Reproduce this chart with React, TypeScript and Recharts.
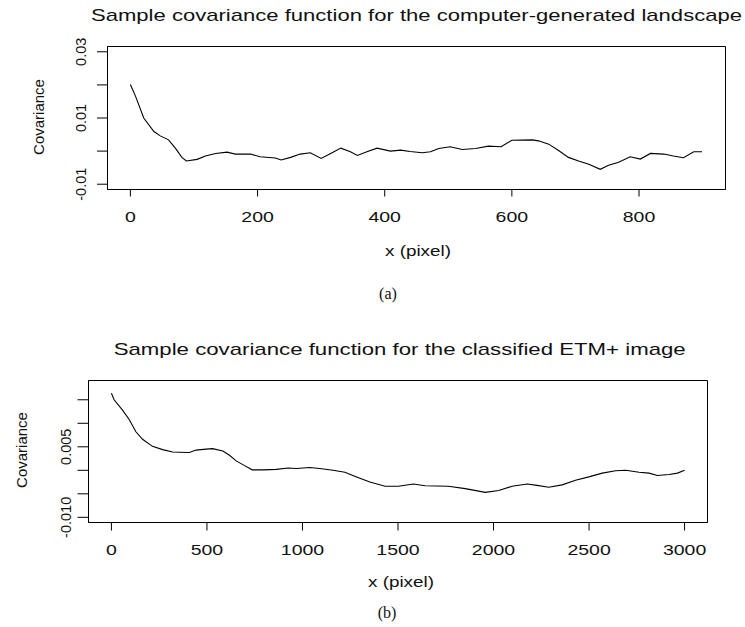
import React from 'react';
import { LineChart, Line, XAxis, YAxis, ReferenceArea } from 'recharts';

const FONT = '"Liberation Sans", Arial, Helvetica, sans-serif';
const SERIF = '"Liberation Serif", "Times New Roman", serif';
// the original R figure is stretched sideways, so horizontal text is widened
const STRETCH = 1.3;

// (a) computer-generated landscape
const landLag = [
  0, 8, 21, 37, 47, 60, 71, 81, 88, 105, 118, 134, 152, 165, 189, 204, 228, 237, 252, 267,
  283, 300, 315, 331, 346, 357, 372, 388, 409, 425, 440, 459, 472, 485, 503, 522, 543, 563,
  583, 600, 632, 642, 658, 674, 689, 705, 721, 739, 752, 768, 786, 802, 818, 839, 854, 870,
  886, 899,
];
const landCov = [
  0.0201, 0.0166, 0.01, 0.0059, 0.0046, 0.0034, 0.0008, -0.0019, -0.003, -0.0025, -0.0015,
  -0.0007, -0.0003, -0.0009, -0.0009, -0.0017, -0.0021, -0.0027, -0.0019, -0.0009, -0.0005,
  -0.0022, -0.0007, 0.0009, -0.0002, -0.0013, -0.0002, 0.0009, 0.0, 0.0003, -0.0001, -0.0005,
  -0.0002, 0.0008, 0.0013, 0.0005, 0.0008, 0.0015, 0.0013, 0.0033, 0.0034, 0.0031, 0.0021,
  0.0001, -0.0019, -0.003, -0.004, -0.0055, -0.0043, -0.0034, -0.0017, -0.0024, -0.0007,
  -0.0009, -0.0015, -0.002, -0.0002, -0.0002,
];
const landXTicks = [0, 200, 400, 600, 800];
const landYTicks = [-0.01, 0, 0.01, 0.02, 0.03];
const landYLabels = ['-0.01', '', '0.01', '', '0.03'];

// (b) classified ETM+ image
const etmLag = [
  0, 14, 58, 93, 128, 163, 215, 268, 320, 355, 408, 443, 496, 530, 583, 618, 653, 697, 737,
  793, 863, 924, 968, 1038, 1090, 1160, 1222, 1283, 1353, 1432, 1502, 1580, 1642, 1764, 1852,
  1957, 2027, 2097, 2176, 2228, 2289, 2359, 2429, 2499, 2569, 2639, 2692, 2762, 2814, 2858,
  2919, 2963, 3000,
];
const etmCov = [
  0.0164, 0.015, 0.0128, 0.0108, 0.0082, 0.0066, 0.0051, 0.0044, 0.0039, 0.00385, 0.0038,
  0.0043, 0.0045, 0.0046, 0.0041, 0.0032, 0.002, 0.001, 0.0001, 0.0001, 0.0002, 0.0005,
  0.0004, 0.0006, 0.0004, 0.0, -0.0004, -0.0014, -0.0025, -0.0034, -0.0034, -0.0029, -0.0033,
  -0.0034, -0.0039, -0.0047, -0.0043, -0.0034, -0.0029, -0.0032, -0.0036, -0.0031, -0.0021,
  -0.0014, -0.0006, -0.0001, 0.0, -0.0004, -0.0006, -0.0011, -0.0009, -0.0006, 0.0,
];
const etmXTicks = [0, 500, 1000, 1500, 2000, 2500, 3000];
const etmYTicks = [-0.01, -0.005, 0, 0.005, 0.01, 0.015];
const etmYLabels = ['-0.010', '', '', '0.005', '', ''];

const landData = landLag.map((x, i) => ({ x, cov: landCov[i] }));
const etmData = etmLag.map((x, i) => ({ x, cov: etmCov[i] }));

const Tick = (props: any) => {
  const { x, y, payload, index, labels, offset, vertical } = props;
  const text = labels ? labels[index] : String(payload.value);
  if (!text) return null;
  const transform = vertical
    ? `translate(${x + offset},${y}) rotate(-90)`
    : `translate(${x},${y + offset}) scale(${STRETCH},1)`;
  return (
    <text transform={transform} textAnchor="middle" fontFamily={FONT} fontSize={vertical ? 14.5 : 15} fill="#111">
      {text}
    </text>
  );
};

function Panel(props: any) {
  const { top, data, margin, xDomain, yDomain, xTicks, yTicks, yLabels, yAxisWidth, xTickLen, yTickLen, xLabelOffset, yLabelOffset } = props;
  return (
    <div style={{ position: 'absolute', left: 0, top }}>
      <LineChart width={745} height={270} data={data} margin={margin}>
        <XAxis
          dataKey="x"
          type="number"
          domain={xDomain}
          allowDataOverflow
          ticks={xTicks}
          interval={0}
          height={50}
          tickSize={xTickLen}
          tickMargin={0}
          stroke="#000"
          tick={(p: any) => <Tick {...p} offset={xLabelOffset} />}
        />
        <YAxis
          type="number"
          domain={yDomain}
          allowDataOverflow
          ticks={yTicks}
          interval={0}
          width={yAxisWidth}
          tickSize={yTickLen}
          tickMargin={0}
          stroke="#000"
          tick={(p: any) => <Tick {...p} labels={yLabels} offset={yLabelOffset} vertical />}
        />
        {/* box round the whole plot region */}
        <ReferenceArea
          x1={xDomain[0]}
          x2={xDomain[1]}
          y1={yDomain[0]}
          y2={yDomain[1]}
          fill="none"
          fillOpacity={0}
          stroke="#000"
          strokeWidth={1}
          ifOverflow="visible"
        />
        <Line type="linear" dataKey="cov" stroke="#000" strokeWidth={1.1} dot={false} isAnimationActive={false} />
      </LineChart>
    </div>
  );
}

const HText = ({ x, y, children, size = 14.5 }: any) => (
  <text transform={`translate(${x},${y}) scale(${STRETCH},1)`} textAnchor="middle" fontFamily={FONT} fontSize={size} fill="#111">
    {children}
  </text>
);

const VText = ({ x, y, children }: any) => (
  <text transform={`translate(${x},${y}) rotate(-90)`} textAnchor="middle" fontFamily={FONT} fontSize={15} fill="#111">
    {children}
  </text>
);

export default function App() {
  return (
    <div style={{ position: 'absolute', left: 0, top: 0, width: 745, height: 627, background: '#fff', overflow: 'hidden' }}>
      <Panel
        top={0}
        data={landData}
        margin={{ top: 46.5, right: 19.5, bottom: 30.5, left: 0 }}
        xDomain={[-36, 936]}
        yDomain={[-0.0116, 0.0316]}
        xTicks={landXTicks}
        yTicks={landYTicks}
        yLabels={landYLabels}
        yAxisWidth={107.5}
        xTickLen={7}
        yTickLen={10.5}
        xLabelOffset={25.2}
        yLabelOffset={-11}
      />
      <Panel
        top={330}
        data={etmData}
        margin={{ top: 50.5, right: 37.5, bottom: 27.5, left: 0 }}
        xDomain={[-120, 3120]}
        yDomain={[-0.0111, 0.0191]}
        xTicks={etmXTicks}
        yTicks={etmYTicks}
        yLabels={etmYLabels}
        yAxisWidth={88.5}
        xTickLen={8}
        yTickLen={11}
        xLabelOffset={24.5}
        yLabelOffset={-7}
      />
      <svg width={745} height={627} style={{ position: 'absolute', left: 0, top: 0, pointerEvents: 'none' }}>
        <text x={91} y={21} textLength={651} lengthAdjust="spacingAndGlyphs" fontFamily={FONT} fontSize={17} fill="#111">
          Sample covariance function for the computer-generated landscape
        </text>
        <text x={113.7} y={355} textLength={572} lengthAdjust="spacingAndGlyphs" fontFamily={FONT} fontSize={17} fill="#111">
          Sample covariance function for the classified ETM+ image
        </text>
        <HText x={418} y={256}>x (pixel)</HText>
        <HText x={401} y={587}>x (pixel)</HText>
        <VText x={43.5} y={117}>Covariance</VText>
        <VText x={26.5} y={450}>Covariance</VText>
        <text x={388} y={299} textAnchor="middle" fontFamily={SERIF} fontSize={16} fill="#111">(a)</text>
        <text x={387} y={618} textAnchor="middle" fontFamily={SERIF} fontSize={16} fill="#111">(b)</text>
      </svg>
    </div>
  );
}
